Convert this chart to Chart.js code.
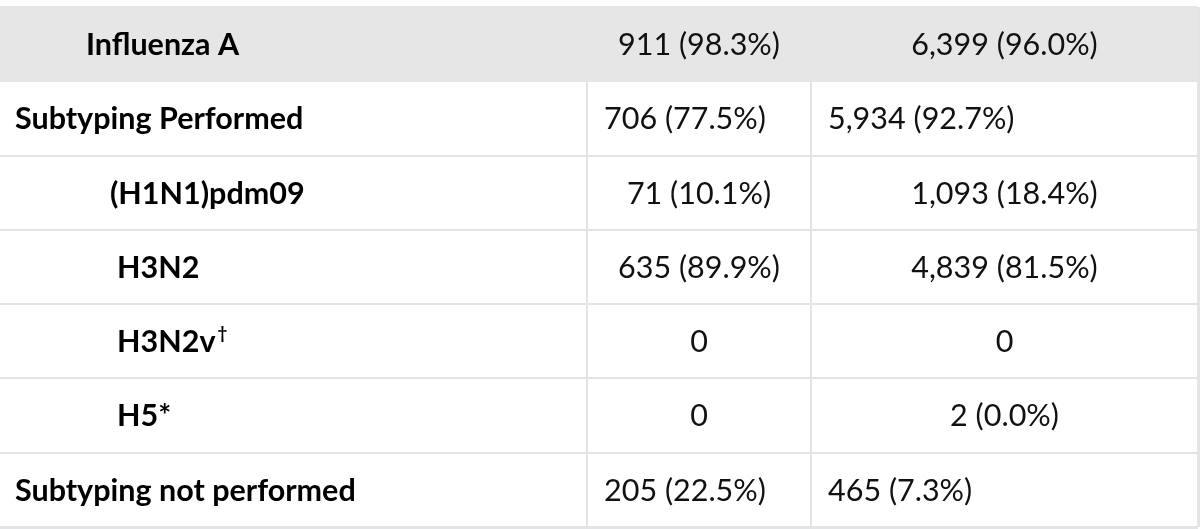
<!DOCTYPE html>
<html>
<head>
<meta charset="utf-8">
<script src="https://cdn.jsdelivr.net/npm/chart.js@4.4.1/dist/chart.umd.min.js"></script>
<style>
    html, body { margin: 0; padding: 0; background: #fff; }
    #wrap { width: 1200px; height: 529px; }
</style>
</head>
<body>
<div id="wrap"><canvas id="fluTable"></canvas></div>
<script>
// Table content
const rowLabels = ['Influenza A', 'Subtyping Performed', '(H1N1)pdm09', 'H3N2', 'H3N2v\u2020', 'H5*', 'Subtyping not performed'];
const weekValues = ['911 (98.3%)', '706 (77.5%)', '71 (10.1%)', '635 (89.9%)', '0', '0', '205 (22.5%)'];
const seasonValues = ['6,399 (96.0%)', '5,934 (92.7%)', '1,093 (18.4%)', '4,839 (81.5%)', '0', '2 (0.0%)', '465 (7.3%)'];
const shadedRow = 0;

// Layout (x units = pixels across the table)
const tableRight = 1198;
const columnEdges = [587, 811, tableRight];
const labelIndent = [86, 15, 110, 117, 117, 117, 15];
const weekAlign = ['center', 'left', 'center', 'center', 'center', 'center', 'left'];
const seasonAlign = ['center', 'left', 'center', 'center', 'center', 'center', 'left'];
const cellPad = 17;

const lineColor = '#e3e4e6';

// draws the cell texts on the scales
const cellText = {
    id: 'cellText',
    afterDraw(chart) {
        const { ctx, scales: { x, y } } = chart;
        ctx.save();

        rowLabels.forEach((label, i) => {
            const cy = y.getPixelForValue(i) + 1;
            ctx.textBaseline = 'middle';

            // first column, bold labels
            ctx.fillStyle = '#000';
            ctx.textAlign = 'left';
            ctx.font = 'bold 30.5px Lato';
            let text = label;
            let sup = '';
            if (label.endsWith('\u2020')) {
                text = label.slice(0, -1);
                sup = '\u2020';
            }
            const lx = x.getPixelForValue(labelIndent[i]);
            ctx.fillText(text, lx, cy);
            if (sup) {
                const w = ctx.measureText(text).width;
                ctx.font = 'bold 17px Lato';
                ctx.textBaseline = 'alphabetic';
                ctx.fillText(sup, lx + w + 2, cy - 3);
                ctx.textBaseline = 'middle';
            }

            // value columns
            ctx.font = '30.5px Lato';
            ctx.fillStyle = '#111';
            [[weekValues, weekAlign, 0], [seasonValues, seasonAlign, 1]].forEach(([vals, align, c]) => {
                const left = x.getPixelForValue(columnEdges[c]);
                const right = x.getPixelForValue(columnEdges[c + 1]);
                if (align[i] === 'left') {
                    ctx.textAlign = 'left';
                    ctx.fillText(vals[i], left + cellPad, cy);
                } else {
                    ctx.textAlign = 'center';
                    ctx.fillText(vals[i], (left + right) / 2, cy);
                }
            });
        });
        ctx.restore();
    }
};

const ctx = document.getElementById('fluTable').getContext('2d');
new Chart(ctx, {
    type: 'bar',
    data: {
        labels: rowLabels,
        datasets: [{
            // shaded header band
            data: rowLabels.map((_, i) => i === shadedRow ? [0, tableRight] : null),
            backgroundColor: '#e6e6e6',
            barPercentage: 1,
            categoryPercentage: 1
        }]
    },
    options: {
        indexAxis: 'y',
        responsive: true,
        maintainAspectRatio: false,
        animation: false,
        events: [],
        layout: { padding: { top: 7, bottom: 2, left: 0, right: 2 } },
        plugins: { legend: { display: false }, tooltip: { enabled: false } },
        scales: {
            x: {
                type: 'linear',
                min: 0,
                max: tableRight,
                z: 1,
                afterBuildTicks: scale => {
                    scale.ticks = columnEdges.map(v => ({ value: v }));
                },
                ticks: { display: false },
                grid: {
                    color: lineColor,
                    lineWidth: c => (c.tick && c.tick.value === tableRight) ? 3 : 2,
                    drawTicks: false
                },
                border: { display: false }
            },
            y: {
                z: 1,
                ticks: { display: false },
                grid: {
                    offset: true,
                    color: lineColor,
                    lineWidth: c => c.type === 'tick' ? 2 : 3,
                    drawTicks: false
                },
                border: { display: false }
            }
        }
    },
    plugins: [cellText]
});
</script>
</body>
</html>
